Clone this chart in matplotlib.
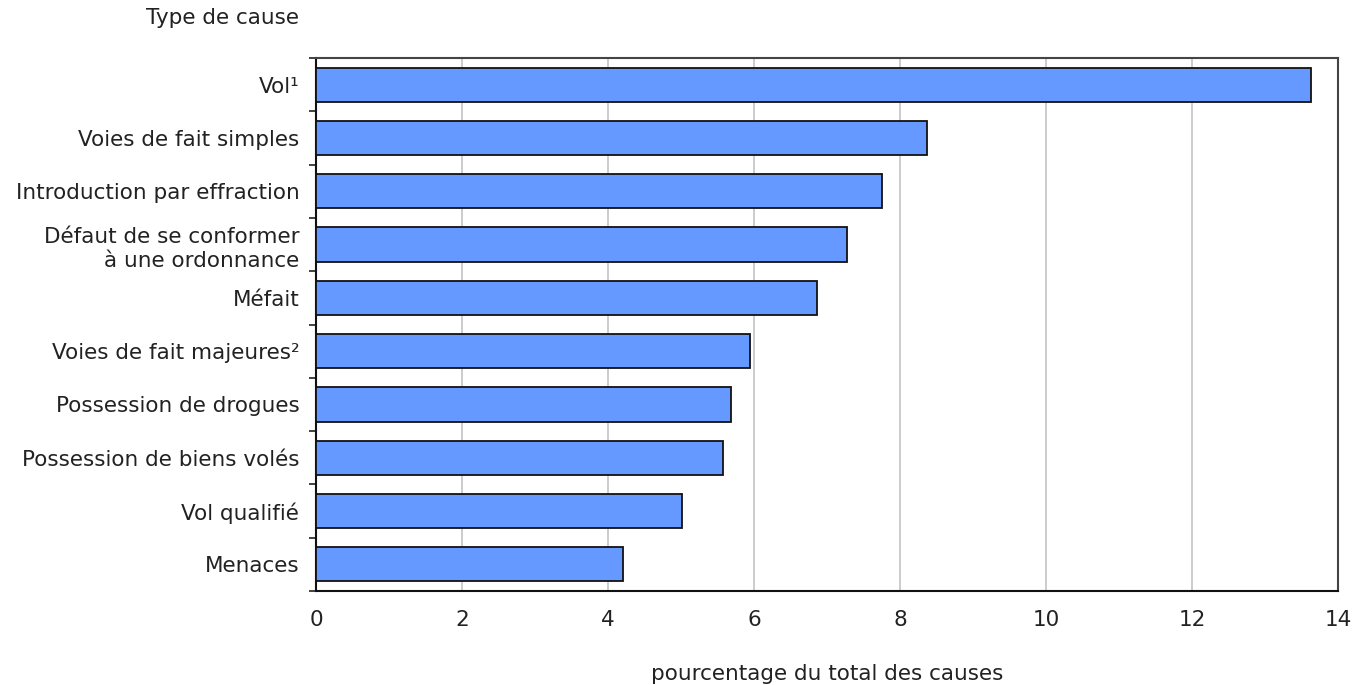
import numpy as np
import matplotlib.pyplot as plt

categories = ["Vol\u00b9", "Voies de fait simples", "Introduction par effraction",
              "D\u00e9faut de se conformer\n\u00e0 une ordonnance", "M\u00e9fait",
              "Voies de fait majeures\u00b2", "Possession de drogues",
              "Possession de biens vol\u00e9s", "Vol qualifi\u00e9", "Menaces"]
values = [13.63, 8.37, 7.75, 7.27, 6.86, 5.95, 5.68, 5.57, 5.02, 4.20]
xticks = [0, 2, 4, 6, 8, 10, 12, 14]

FS = 15.5
plt.rcParams['font.family'] = ['DejaVu Sans']
fig = plt.figure(figsize=(13.57, 6.85), dpi=100)
ax = fig.add_axes([316/1357, 1-591/685, (1338-316)/1357, (591-58)/685])

y = np.arange(len(categories))
ax.barh(y, values, height=0.64, color='#6699ff', edgecolor='#111111', linewidth=1.3, zorder=3)

ax.set_xlim(0, 14)
ax.set_ylim(len(categories) - 0.5, -0.5)
ax.set_xticks(xticks)
ax.set_xticklabels([str(t) for t in xticks], fontsize=FS, color='#222222')
ax.tick_params(axis='x', length=0, pad=14)
ax.grid(axis='x', color='#c8c8c8', linewidth=1.3, zorder=0)

ax.set_yticks(y)
ax.set_yticklabels(categories, fontsize=FS, color='#222222', ha='right', linespacing=1.3)
ax.tick_params(axis='y', which='major', length=0, pad=12)
ax.set_yticks(np.arange(len(categories) + 1) - 0.5, minor=True)
ax.tick_params(axis='y', which='minor', length=5, width=1.2, color='#222222', direction='out')

for s in ['left', 'bottom']:
    ax.spines[s].set_color('#111111')
    ax.spines[s].set_linewidth(1.5)
for s in ['top', 'right']:
    ax.spines[s].set_color('#444444')
    ax.spines[s].set_linewidth(1.5)

fig.text(223/1357, 1-18/685, "Type de cause", fontsize=FS, color='#222222', ha='center', va='center')
ax.set_xlabel("pourcentage du total des causes", fontsize=FS, color='#222222', labelpad=24)

fig.savefig("out.png", dpi=100)
